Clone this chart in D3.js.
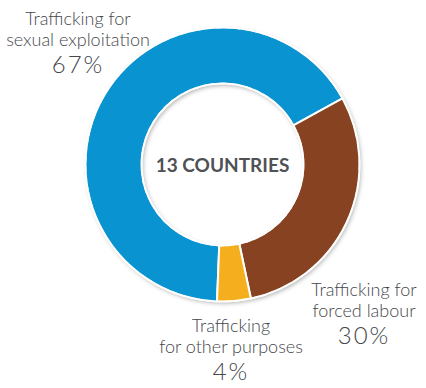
<!DOCTYPE html>
<html>
<head>
<meta charset="utf-8">
<script src="https://cdn.jsdelivr.net/npm/d3@7"></script>
<style>
  html, body { margin: 0; padding: 0; background: #fff; }
  svg { display: block; }
</style>
</head>
<body>
<svg id="chart" width="426" height="388"></svg>
<script>
const categories = ["Trafficking for sexual exploitation", "Trafficking for forced labour", "Trafficking for other purposes"];
const values = [67, 30, 4];
const labelLines = [["Trafficking for", "sexual exploitation"], ["Trafficking for", "forced labour"], ["Trafficking", "for other purposes"]];
const pctLabels = ["67%", "30%", "4%"];
const centerLabel = "13 COUNTRIES";
const colors = ["#0A93D1", "#864221", "#F5AE1E"];

const svg = d3.select("#chart");
const cx = 222.5, cy = 164.5, rOuter = 137, rInner = 81;
const startDeg = 182.3;

const defs = svg.append("defs");
const f = defs.append("filter").attr("id", "shadow").attr("x", "-20%").attr("y", "-20%").attr("width", "140%").attr("height", "140%");
f.append("feDropShadow").attr("dx", 1.5).attr("dy", 2).attr("stdDeviation", 2).attr("flood-color", "#000").attr("flood-opacity", 0.3);

const g = svg.append("g").attr("transform", `translate(${cx},${cy})`);

const pie = d3.pie().sort(null).value(d => d)
  .startAngle(startDeg * Math.PI / 180)
  .endAngle(startDeg * Math.PI / 180 + 2 * Math.PI);
const arc = d3.arc().innerRadius(rInner).outerRadius(rOuter);
const arcs = pie(values);

g.append("path")
  .attr("d", d3.arc().innerRadius(rInner).outerRadius(rOuter).startAngle(0).endAngle(2 * Math.PI)())
  .attr("fill", "#fff")
  .attr("filter", "url(#shadow)");

g.selectAll("path.slice").data(arcs).join("path")
  .attr("class", "slice")
  .attr("d", arc)
  .attr("fill", (d, i) => colors[i])
  .attr("stroke", "#fff")
  .attr("stroke-width", 2)
  .attr("stroke-linejoin", "round");

[rOuter, rInner].forEach(r => {
  g.append("circle").attr("r", r).attr("fill", "none")
    .attr("stroke", "#fff").attr("stroke-width", 1.5)
    .attr("stroke-dasharray", "6 3");
});

g.append("text")
  .attr("text-anchor", "middle")
  .attr("y", 7)
  .attr("font-family", "Lato, 'Open Sans', sans-serif")
  .attr("font-weight", 700)
  .attr("font-size", 19)
  .attr("fill", "#4f5255")
  .text(centerLabel);

const labelPos = [
  { x: 78, y: 25 },
  { x: 364, y: 296 },
  { x: 231, y: 332 }
];
labelPos.forEach((p, i) => {
  const t = svg.append("text")
    .attr("text-anchor", "middle")
    .attr("font-family", "Lato, 'Open Sans', sans-serif")
    .attr("font-weight", 300)
    .attr("fill", "#45484c");
  labelLines[i].forEach((line, j) => {
    t.append("tspan").attr("x", p.x).attr("y", p.y + j * 20.5)
      .attr("font-size", 18).text(line);
  });
  svg.append("text")
    .attr("text-anchor", "middle")
    .attr("font-family", "Lato, 'Open Sans', sans-serif")
    .attr("font-weight", 300)
    .attr("fill", "#45484c")
    .attr("x", p.x).attr("y", p.y + 48)
    .attr("font-size", 24).attr("letter-spacing", 2).text(pctLabels[i]);
});
</script>
</body>
</html>
